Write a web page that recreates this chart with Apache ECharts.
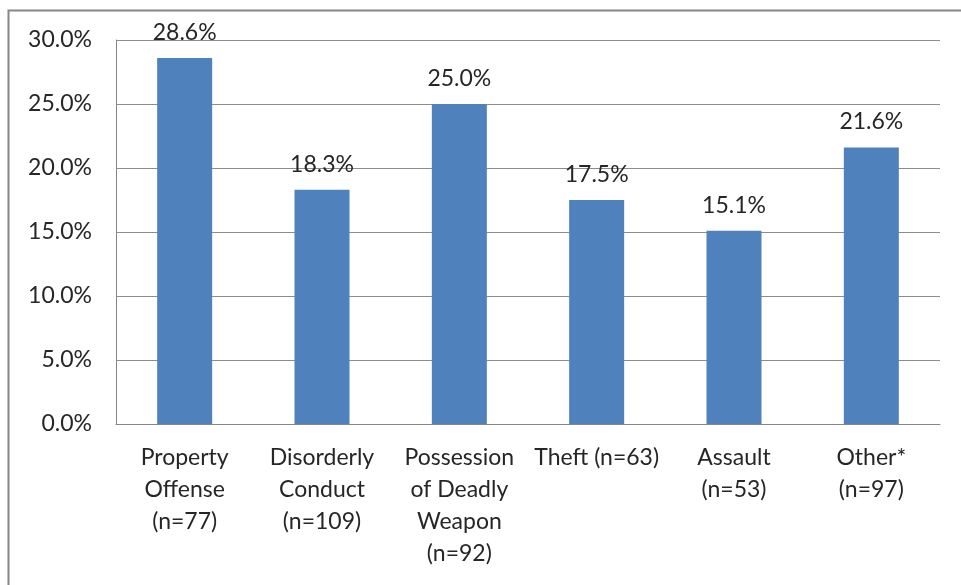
<!DOCTYPE html>
<html><head><meta charset="utf-8">
<script src="https://cdn.jsdelivr.net/npm/echarts@6/dist/echarts.min.js"></script>
<style>html,body{margin:0;padding:0;background:#fff}#c{width:961px;height:585px}</style>
</head><body><div id="c"></div>
<script>
const categories = ["Property\nOffense\n(n=77)", "Disorderly\nConduct\n(n=109)", "Possession\nof Deadly\nWeapon\n(n=92)", "Theft (n=63)", "Assault\n(n=53)", "Other*\n(n=97)"];
const values = [28.6, 18.3, 25.0, 17.5, 15.1, 21.6];
const yMin = 0, yMax = 30, yStep = 5;

const FONT = 'Lato';
const FS = 23;
const TXT = '#262626';
const chart = echarts.init(document.getElementById('c'), null, {renderer: 'canvas'});
chart.setOption({
  backgroundColor: '#fff',
  animation: false,
  graphic: [{type: 'rect', shape: {x: 8.5, y: 10.5, width: 1200, height: 1200}, style: {fill: null, stroke: '#868686', lineWidth: 2}, silent: true}],
  grid: {left: 116, top: 40, right: 21, bottom: 161, containLabel: false},
  xAxis: {
    type: 'category', data: categories,
    axisLine: {lineStyle: {color: '#868686', width: 1}},
    axisTick: {show: false},
    axisLabel: {interval: 0, color: TXT, fontFamily: FONT, fontSize: FS, lineHeight: 32, margin: 18, align: 'center'}
  },
  yAxis: {
    type: 'value', min: yMin, max: yMax, interval: yStep,
    axisLine: {show: true, lineStyle: {color: '#868686', width: 1}},
    axisTick: {show: false},
    splitLine: {lineStyle: {color: '#8c8c8c', width: 1}},
    axisLabel: {color: TXT, fontFamily: FONT, fontSize: FS, margin: 24, formatter: v => v.toFixed(1) + '%'}
  },
  series: [{
    type: 'bar', data: values, barWidth: 55,
    itemStyle: {color: '#4F81BD'},
    label: {show: true, position: 'top', distance: 14, color: TXT, fontFamily: FONT, fontSize: FS, formatter: p => p.value.toFixed(1) + '%'}
  }]
});
</script></body></html>
